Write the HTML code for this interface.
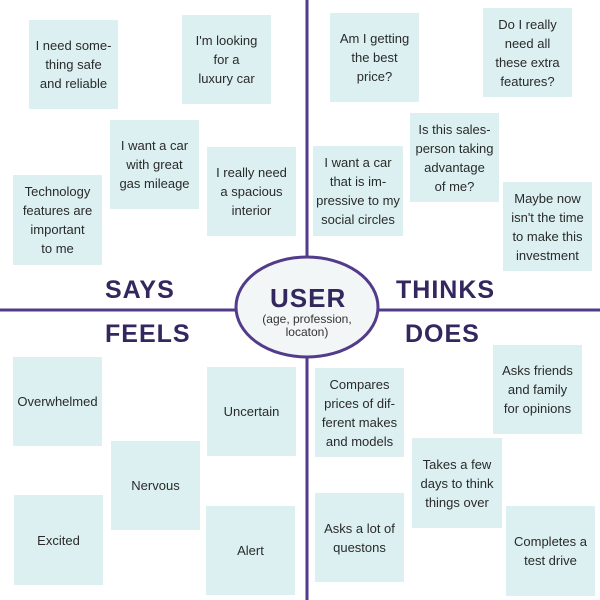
<!DOCTYPE html>
<html><head><meta charset="utf-8"><style>
body{margin:0;width:600px;height:600px;background:#fff;position:relative;overflow:hidden;font-family:"Liberation Sans Narrow","Liberation Sans",sans-serif}
.n{position:absolute;width:89px;height:89px;background:#dcf0f1;display:flex;align-items:center;justify-content:center;text-align:center;font-size:13px;line-height:19px;color:#2a2a2a}
.l{position:absolute;font-family:"Liberation Sans",sans-serif;font-weight:bold;font-size:25px;color:#33275e;letter-spacing:1px}
</style></head><body>
<svg width="600" height="600" style="position:absolute;left:0;top:0">
<line x1="307" y1="0" x2="307" y2="600" stroke="#533b8b" stroke-width="3"/>
<line x1="0" y1="310" x2="600" y2="310" stroke="#533b8b" stroke-width="3"/>
<ellipse cx="307" cy="307" rx="71" ry="50" fill="#f2f6f6" stroke="#533b8b" stroke-width="3"/>
</svg>
<div class="l" style="left:105px;top:276px">SAYS</div>
<div class="l" style="left:396px;top:276px">THINKS</div>
<div class="l" style="left:105px;top:320px">FEELS</div>
<div class="l" style="left:405px;top:320px">DOES</div>
<div class="l" style="left:270px;top:283px;font-size:26px">USER</div>
<div style="position:absolute;left:250px;top:313px;width:114px;text-align:center;font-size:12px;line-height:13px;color:#333">(age, profession,<br>locaton)</div>

<div class="n" style="left:29px;top:20px">I need some-<br>thing safe<br>and reliable</div>
<div class="n" style="left:182px;top:15px">I'm looking<br>for a<br>luxury car</div>
<div class="n" style="left:110px;top:120px">I want a car<br>with great<br>gas mileage</div>
<div class="n" style="left:207px;top:147px">I really need<br>a spacious<br>interior</div>
<div class="n" style="left:13px;top:175px;height:90px">Technology<br>features are<br>important<br>to me</div>

<div class="n" style="left:330px;top:13px">Am I getting<br>the best<br>price?</div>
<div class="n" style="left:483px;top:8px">Do I really<br>need all<br>these extra<br>features?</div>
<div class="n" style="left:410px;top:113px">Is this sales-<br>person taking<br>advantage<br>of me?</div>
<div class="n" style="left:313px;top:146px;width:90px;height:90px">I want a car<br>that is im-<br>pressive to my<br>social circles</div>
<div class="n" style="left:503px;top:182px">Maybe now<br>isn't the time<br>to make this<br>investment</div>

<div class="n" style="left:13px;top:357px">Overwhelmed</div>
<div class="n" style="left:207px;top:367px">Uncertain</div>
<div class="n" style="left:111px;top:441px">Nervous</div>
<div class="n" style="left:14px;top:495px;height:90px">Excited</div>
<div class="n" style="left:206px;top:506px">Alert</div>

<div class="n" style="left:315px;top:368px">Compares<br>prices of dif-<br>ferent makes<br>and models</div>
<div class="n" style="left:493px;top:345px">Asks friends<br>and family<br>for opinions</div>
<div class="n" style="left:412px;top:438px;width:90px;height:90px">Takes a few<br>days to think<br>things over</div>
<div class="n" style="left:315px;top:493px">Asks a lot of<br>questons</div>
<div class="n" style="left:506px;top:506px;height:90px">Completes a<br>test drive</div>
</body></html>
